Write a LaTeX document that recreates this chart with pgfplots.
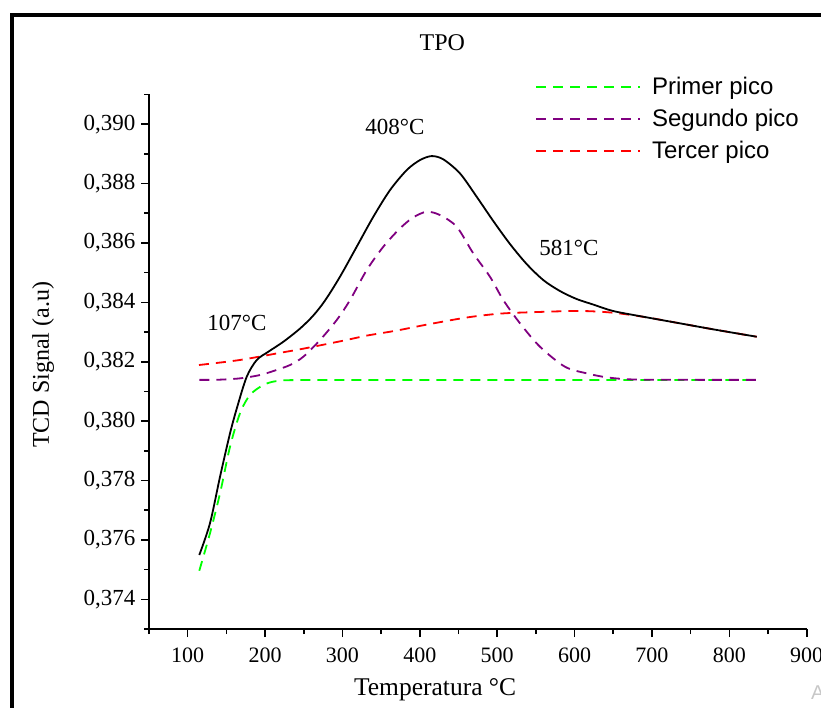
\documentclass[border=0pt]{standalone}
\usepackage{fontspec}
\setmainfont{Liberation Serif}
\newfontfamily\legendfont{Liberation Sans}
\usepackage{pgfplots}
\pgfplotsset{compat=1.18}
\definecolor{pgreen}{HTML}{00FF00}
\definecolor{ppurple}{HTML}{800080}
\definecolor{pred}{HTML}{FF0000}
\begin{document}
\begin{tikzpicture}[x=1pt,y=1pt]
\useasboundingbox (0,0) rectangle (821,707);
\begin{scope}
\clip (0,0) rectangle (821,707);
\draw[line width=4pt] (12,-10) -- (12,691.7) -- (830,691.7);
\node[text=black!22, font=\legendfont\fontsize{20}{24}\selectfont, anchor=base west, inner sep=0pt] at (811,8) {A};
\end{scope}
\begin{axis}[
  at={(149pt,78pt)}, anchor=south west,
  scale only axis, width=657.7pt, height=534.5pt,
  xmin=50, xmax=900, ymin=0.373, ymax=0.391,
  axis lines=left, axis line style={-, line width=1.6pt},
  xtick={100,200,300,400,500,600,700,800,900},
  minor xtick={50,150,250,350,450,550,650,750,850},
  ytick={0.374,0.376,0.378,0.380,0.382,0.384,0.386,0.388,0.390},
  minor ytick={0.373,0.375,0.377,0.379,0.381,0.383,0.385,0.387,0.389,0.391},
  tick align=outside, major tick length=8pt, minor tick length=5pt,
  every tick/.style={black, line width=1.6pt},
  scaled y ticks=false,
  /pgf/number format/assume math mode=true,
  yticklabel style={/pgf/number format/.cd, fixed, fixed zerofill, precision=3, use comma, /tikz/.cd, font=\fontsize{23}{27}\selectfont, xshift=-2pt},
  xticklabel style={font=\fontsize{22}{26}\selectfont, yshift=-7pt},
  title={TPO},
  title style={at={(axis description cs:0.446,1.072)}, anchor=base, font=\fontsize{24}{28}\selectfont, inner sep=0pt},
  xlabel={Temperatura °C},
  xlabel style={at={(axis description cs:0.435,-0.1235)}, anchor=base, font=\fontsize{25.5}{30}\selectfont, inner sep=0pt},
  ylabel={TCD Signal (a.u)},
  ylabel style={at={(axis description cs:-0.161,0.494)}, anchor=center, font=\fontsize{24}{28}\selectfont, inner sep=0pt},
  legend image code/.code={\draw[#1] (0pt,0pt) -- (104pt,0pt);},
  legend style={at={(axis description cs:0.587,1.036)}, anchor=north west, draw=none, fill=none,
    font=\legendfont\fontsize{24}{28}\selectfont, inner sep=0pt, row sep=9pt, column sep=9pt},
  legend cell align=left,
  clip=false,
]
\addplot[pgreen, line width=1.8pt, dash pattern=on 10pt off 7pt, smooth] coordinates {
(115.0,0.374963) (128.8,0.376222) (141.8,0.377569) (154.7,0.379138) (167.6,0.380263)
(180.5,0.380879) (197.7,0.381215) (215.0,0.381350) (245.2,0.381384) (400,0.381386)
(600,0.381387) (835.4,0.381387)};
\addlegendentry{Primer pico}
\addplot[ppurple, line width=1.8pt, dash pattern=on 10pt off 7pt, smooth] coordinates {
(115.0,0.381390) (140,0.381395) (167.6,0.381441) (193.4,0.381552) (210.6,0.381687)
(232.2,0.381889) (249.4,0.382168) (271.0,0.382731) (292.6,0.383404) (309.8,0.384077)
(331.4,0.385088) (352.8,0.385872) (374.4,0.386492) (391.6,0.386862) (408.9,0.387051)
(426.1,0.386939) (447.7,0.386545) (469.1,0.385650) (490.7,0.384862) (507.9,0.384077)
(529.5,0.383293) (555.3,0.382505) (587.6,0.381832) (615.7,0.381609) (641.5,0.381475)
(671.6,0.381407) (720,0.381392) (835.4,0.381390)};
\addlegendentry{Segundo pico}
\addplot[pred, line width=1.8pt, dash pattern=on 10pt off 7pt, smooth] coordinates {
(114.6,0.38189) (167.6,0.38206) (219.3,0.38230) (249.4,0.38244) (301.1,0.38271)
(331.4,0.38288) (370,0.38305) (408.9,0.38325) (460.6,0.38349) (503.6,0.38362)
(546.7,0.38367) (607.0,0.38371) (650.1,0.38365) (693.2,0.383495) (736.3,0.383293)
(779.3,0.383091) (835.4,0.382842)};
\addlegendentry{Tercer pico}
\addplot[black, line width=1.8pt, smooth, forget plot] coordinates {
(115.0,0.375492) (128.8,0.376559) (141.8,0.378128) (154.7,0.379589) (164.1,0.380485)
(176.3,0.381495) (189.2,0.382057) (204.2,0.382337) (223.6,0.382673) (245.2,0.383118)
(262.3,0.383556) (277.5,0.384061) (296.8,0.384862) (318.4,0.385872) (339.9,0.386882)
(361.5,0.387781) (383.1,0.388455) (400.2,0.388791) (415.4,0.388926) (430.4,0.388815)
(451.9,0.388343) (473.5,0.387556) (495.0,0.386737) (516.6,0.385963) (538.1,0.385290)
(559.6,0.384751) (581.2,0.384380) (602.8,0.384111) (624.2,0.383926) (650.1,0.383707)
(693.2,0.383495) (736.3,0.383293) (779.3,0.383091) (835.4,0.382842)};
\node[font=\fontsize{23}{27}\selectfont] at (axis cs:367.9,0.38990) {408°C};
\node[font=\fontsize{23}{27}\selectfont] at (axis cs:163.7,0.38330) {107°C};
\node[font=\fontsize{23}{27}\selectfont] at (axis cs:592.8,0.38583) {581°C};
\end{axis}
\end{tikzpicture}
\end{document}
